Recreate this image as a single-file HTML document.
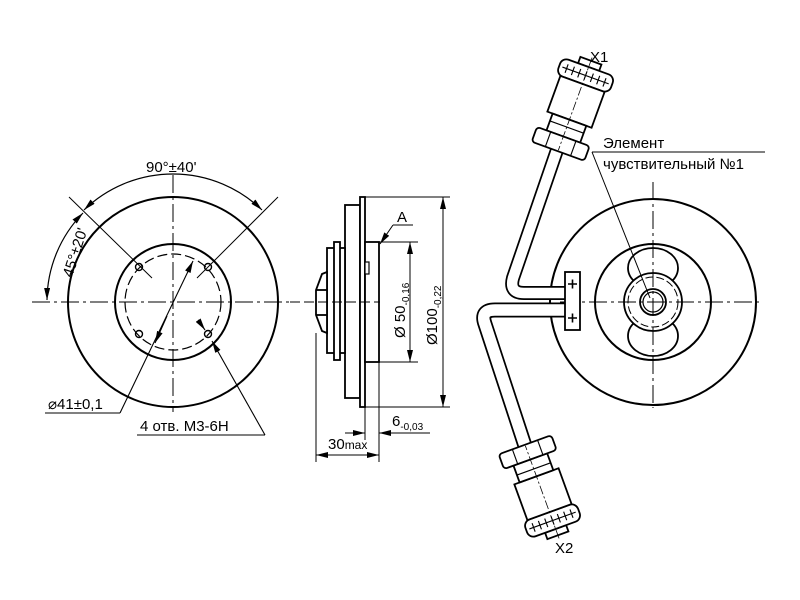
<!DOCTYPE html>
<html><head><meta charset="utf-8"><style>
html,body{margin:0;padding:0;background:#fff}
svg{display:block}
text{font-family:"Liberation Sans",sans-serif;fill:#000}
</style></head><body>
<svg width="800" height="600" viewBox="0 0 800 600" xmlns="http://www.w3.org/2000/svg">
<defs>
<marker id="a" viewBox="0 0 12 6" refX="12" refY="3" markerWidth="12" markerHeight="6" orient="auto-start-reverse" markerUnits="userSpaceOnUse"><path d="M0,0 L12,3 L0,6 z" fill="#000"/></marker>
<g id="conn" fill="#fff" stroke="#000" stroke-width="1.6">
<rect x="-10" y="-5" width="20" height="6"/>
<rect x="-25" y="1" width="50" height="16" rx="6"/>
<line x1="-22" y1="9" x2="22" y2="9" stroke-width="1"/>
<path d="M-18 5v8M-12 5v8M-6 5v8M0 5v8M6 5v8M12 5v8M18 5v8" stroke-width="1"/>
<rect x="-21" y="17" width="42" height="34"/>
<rect x="-16" y="51" width="32" height="16"/>
<line x1="-16" y1="58" x2="16" y2="58" stroke-width="1"/>
<rect x="-25" y="67" width="50" height="14" rx="3"/>
<line x1="-12" y1="67" x2="-12" y2="81" stroke-width="1"/>
<line x1="12" y1="67" x2="12" y2="81" stroke-width="1"/>
<line x1="0" y1="-8" x2="0" y2="80" stroke-width="0.7" stroke-dasharray="8 2 2 2"/>
</g>
</defs>

<g fill="none" stroke="#000">
<!-- LEFT VIEW -->
<circle cx="173" cy="302" r="105" stroke-width="2"/>
<circle cx="173" cy="302" r="58" stroke-width="2"/>
<circle cx="173" cy="302" r="48" stroke-width="1.2" stroke-dasharray="10 4"/>
<g stroke-width="1.4"><circle cx="139" cy="267" r="3.5"/><circle cx="208" cy="267" r="3.5"/><circle cx="139" cy="334" r="3.5"/><circle cx="208" cy="334" r="3.5"/></g>
<line x1="32" y1="302" x2="290" y2="302" stroke-width="1" stroke-dasharray="18 4 3 4"/>
<line x1="173" y1="175" x2="173" y2="412" stroke-width="1" stroke-dasharray="18 4 3 4"/>
<line x1="69" y1="197" x2="152" y2="278" stroke-width="1"/>
<line x1="278" y1="197" x2="197" y2="278" stroke-width="1"/>
<path d="M84 210 A128 128 0 0 1 262 210" stroke-width="1.2" marker-start="url(#a)" marker-end="url(#a)"/>
<path d="M47 300 A126 126 0 0 1 83 213" stroke-width="1.2" marker-start="url(#a)" marker-end="url(#a)"/>
<line x1="120" y1="413" x2="193" y2="261" stroke-width="1.1" marker-end="url(#a)"/>
<line x1="167" y1="316" x2="155" y2="343" stroke-width="1.1" marker-end="url(#a)"/>
<line x1="45" y1="413" x2="120" y2="413" stroke-width="1.1"/>
<line x1="265" y1="435" x2="212" y2="341" stroke-width="1.1" marker-end="url(#a)"/>
<line x1="137" y1="435" x2="265" y2="435" stroke-width="1.1"/>
<line x1="198" y1="320" x2="205" y2="330" stroke-width="1.1" marker-end="url(#a)"/>

<!-- MIDDLE VIEW -->
<g stroke-width="1.8" fill="#fff">
<rect x="345" y="205" width="15" height="193"/>
<rect x="360" y="197" width="5" height="210"/>
<rect x="365" y="242" width="14" height="120"/>
<rect x="327" y="248" width="18" height="105"/>
<rect x="334" y="242" width="6" height="118"/>
<path d="M327 272 L322 274 L316 290 L316 315 L322 331 L327 333 Z"/>
<line x1="316" y1="290" x2="327" y2="290"/><line x1="316" y1="315" x2="327" y2="315"/>
<rect x="365" y="262" width="4" height="12" stroke-width="1.2"/>
</g>
<line x1="290" y1="302" x2="380" y2="302" stroke-width="1" stroke-dasharray="10 4"/>
<g stroke-width="1">
<line x1="365" y1="197" x2="450" y2="197"/><line x1="365" y1="407" x2="450" y2="407"/>
<line x1="443" y1="197" x2="443" y2="407" marker-start="url(#a)" marker-end="url(#a)"/>
<line x1="379" y1="242" x2="418" y2="242"/><line x1="379" y1="362" x2="418" y2="362"/>
<line x1="410" y1="242" x2="410" y2="362" marker-start="url(#a)" marker-end="url(#a)"/>
<line x1="393" y1="225" x2="413" y2="225"/>
<line x1="393" y1="225" x2="380" y2="244" marker-end="url(#a)"/>
<line x1="316" y1="333" x2="316" y2="462"/><line x1="379" y1="362" x2="379" y2="462"/>
<line x1="365" y1="407" x2="365" y2="440"/>
<line x1="316" y1="455" x2="379" y2="455" marker-start="url(#a)" marker-end="url(#a)"/>
<line x1="345" y1="433" x2="365" y2="433" marker-end="url(#a)"/>
<line x1="430" y1="433" x2="379" y2="433" marker-end="url(#a)"/>
</g>

<!-- RIGHT VIEW -->
<circle cx="653" cy="302" r="103" stroke-width="2"/>
<circle cx="653" cy="302" r="58" stroke-width="2"/>
<ellipse cx="653" cy="268" rx="25" ry="20" stroke-width="1.8"/>
<ellipse cx="653" cy="336" rx="25" ry="20" stroke-width="1.8"/>
<circle cx="653" cy="302" r="29" stroke-width="1.8" fill="#fff"/>
<circle cx="653" cy="302" r="25" stroke-width="1" stroke-dasharray="8 3"/>
<circle cx="653" cy="302" r="13" stroke-width="1.8"/>
<circle cx="653" cy="302" r="10" stroke-width="1.2"/>
<line x1="653" y1="182" x2="653" y2="408" stroke-width="1" stroke-dasharray="18 4 3 4"/>
<line x1="560" y1="302" x2="762" y2="302" stroke-width="1" stroke-dasharray="18 4 3 4"/>
<!-- tubes -->
<path d="M557 150 L513 278 Q509 293 524 293 L568 293" stroke-width="14" stroke-linejoin="round"/>
<path d="M557 150 L513 278 Q509 293 524 293 L568 293" stroke="#fff" stroke-width="10.5"/>
<path d="M568 310 L495 310 Q480 310 485 324 L528 455" stroke-width="15"/>
<path d="M568 310 L495 310 Q480 310 485 324 L528 455" stroke="#fff" stroke-width="11.5"/>
<rect x="565" y="272" width="15" height="58" fill="#fff" stroke-width="1.8"/>
<path d="M568 284h9M572.5 279.5v9M568 318h9M572.5 313.5v9" stroke-width="1.6"/>
<use href="#conn" transform="translate(589,66) rotate(20) scale(1.12)"/>
<use href="#conn" transform="translate(556,530) rotate(160) scale(1.12)"/>
<line x1="592" y1="152" x2="765" y2="152" stroke-width="1"/>
<line x1="592" y1="152" x2="650" y2="298" stroke-width="1"/>
</g>

<g font-size="15">
<text x="146" y="172">90°±40'</text>
<text transform="translate(72,278) rotate(-72)">45°±20'</text>
<text x="48" y="409">⌀41±0,1</text>
<text x="140" y="431">4 отв. М3-6Н</text>
<text x="397" y="222">A</text>
<text transform="translate(405,338) rotate(-90)">Ø 50<tspan font-size="10" dy="4">-0,16</tspan></text>
<text transform="translate(437,345) rotate(-90)">Ø100<tspan font-size="10" dy="4">-0,22</tspan></text>
<text x="392" y="426">6<tspan font-size="10" dy="4">-0,03</tspan></text>
<text x="328" y="449">30<tspan font-size="12">max</tspan></text>
<text x="590" y="62">X1</text>
<text x="555" y="553">X2</text>
<text x="603" y="148">Элемент</text>
<text x="603" y="169">чувствительный №1</text>
</g>
</svg>
</body></html>
